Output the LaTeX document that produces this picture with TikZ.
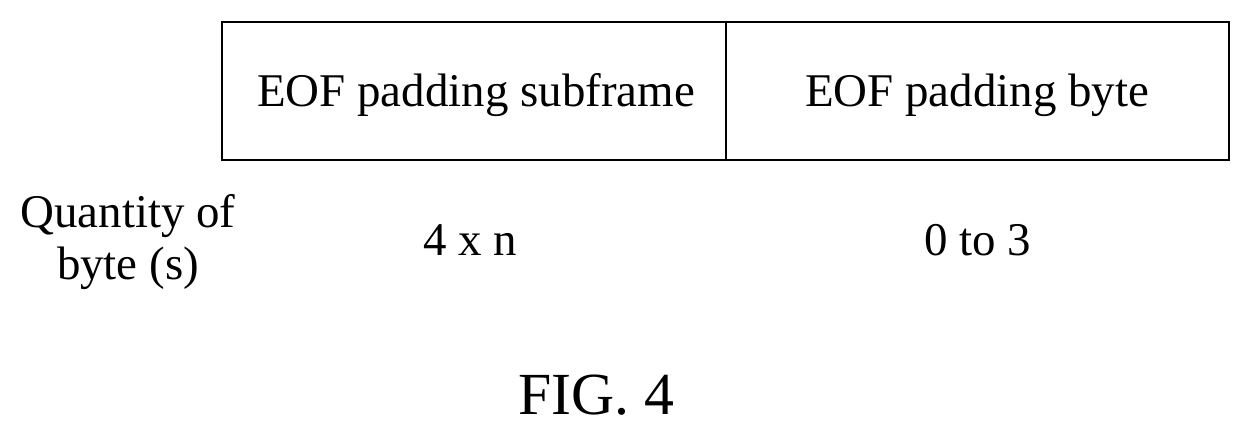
\documentclass[tikz,border=0pt]{standalone}
\usepackage{fontspec}
\setmainfont{Liberation Serif}
\begin{document}
\begin{tikzpicture}[x=0.02cm,y=-0.02cm]
\tikzset{lbl/.style={inner sep=0pt,outer sep=0pt,font=\fontsize{26.7pt}{30pt}\selectfont}}
\useasboundingbox (0,0) rectangle (1251,433);
\pgfsetlinewidth{1.2pt}
% frame
\draw[line width=1.2pt] (222,22) rectangle (1229,160);
\draw[line width=1.2pt] (726,22)--(726,160);
% field texts
\node[lbl] (sub) at (476,95) {EOF padding subframe};
\node[lbl] (pad) at (977,95) {EOF padding byte};
% quantities
\node[lbl,align=center] (qty) at (128,242) {Quantity of\\byte (s)};
\node[lbl] (n) at (470,240) {4 x n};
\node[lbl] (r) at (978,240) {0 to 3};
% caption
\node[inner sep=0pt,font=\fontsize{34pt}{40pt}\selectfont] (fig) at (596,395) {FIG. 4};
\end{tikzpicture}
\end{document}
